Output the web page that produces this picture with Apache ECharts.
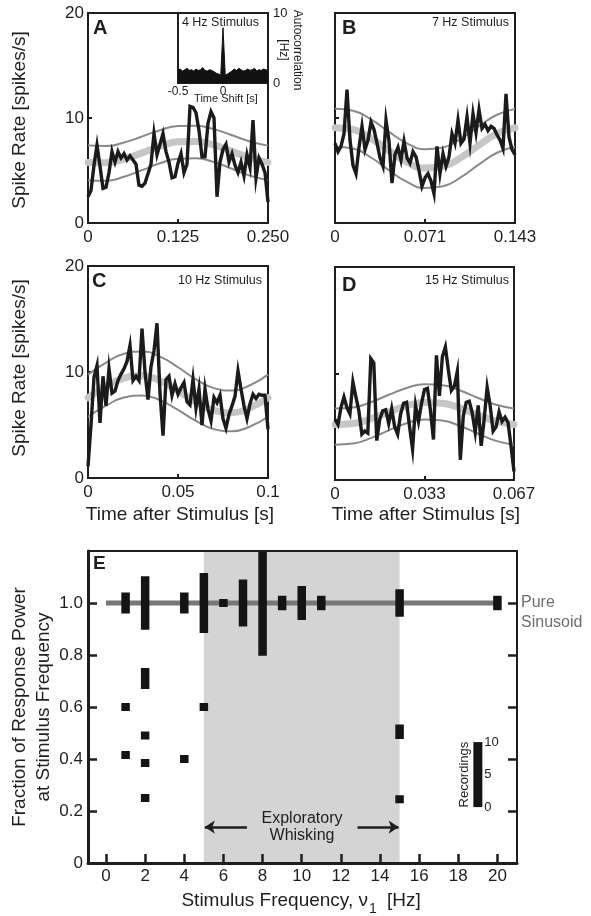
<!DOCTYPE html>
<html><head><meta charset="utf-8">
<script src="https://cdn.jsdelivr.net/npm/echarts@6/dist/echarts.min.js"></script>
<style>html,body{margin:0;padding:0;background:#fff}#c{width:591px;height:916px}</style>
</head><body><div id="c"></div><script>
const FONT = '"Liberation Sans", Arial, Helvetica, sans-serif';
const INK = '#1e1e1e';

// ---------- Panels A-D: spike-rate traces (evenly spaced bins over one stimulus period) ----------
const periodA = 0.25, periodB = 1/7, periodC = 0.1, periodD = 1/15;
const traceA = [2.5,3.1,5.5,7.4,5.4,3.3,3.4,4.8,6.8,5.8,6.8,6.2,6.6,6.0,6.4,6.0,5.6,3.6,3.5,3.8,4.7,5.6,8.5,6.5,7.5,8.5,6.8,5.8,4.3,4.4,5.7,6.6,4.8,5.6,11.1,11.0,10.5,8.8,6.3,6.3,9.5,10.6,10.0,2.5,5.8,7.0,7.5,5.8,6.6,5.5,4.8,5.8,4.5,6.5,5.3,9.8,4.3,6.2,5.6,4.8,2.0];
const traceB = [7.6,6.8,7.3,8.5,12.7,7.9,5.5,4.7,7.2,9.2,7.0,7.9,9.6,8.9,7.6,6.2,5.4,9.8,7.8,3.8,6.5,7.2,6.0,7.8,6.2,5.7,6.8,6.3,5.0,3.5,4.3,4.7,4.0,2.8,7.3,4.7,6.6,5.4,6.3,8.5,7.6,9.8,7.6,8.0,10.1,7.6,10.4,8.6,10.8,9.0,9.4,8.8,9.2,9.0,8.4,7.9,7.1,12.3,8.2,7.0,6.5];
const traceC = [1.1,5.0,9.5,10.6,5.2,9.6,6.8,10.3,8.0,8.2,9.2,9.8,10.3,11.0,12.5,9.2,9.6,9.2,14.1,10.0,7.4,10.5,12.0,14.6,8.0,4.0,9.3,9.6,7.8,8.9,7.9,8.5,9.0,7.2,6.9,9.3,6.6,8.4,5.0,8.4,6.5,5.4,7.6,7.1,7.8,5.6,4.7,6.0,6.8,7.7,10.1,8.4,6.8,5.6,7.0,7.9,7.5,7.9,7.8,7.8,4.6];
const traceD = [5.7,5.2,6.8,7.8,6.8,6.2,9.2,7.8,6.5,4.3,4.6,4.4,11.4,11.0,3.7,5.7,6.5,6.6,5.3,6.7,5.0,4.3,6.2,7.2,7.3,5.0,2.9,7.0,5.5,7.2,8.5,8.6,6.5,3.8,11.7,7.9,11.6,12.5,10.3,8.4,8.8,10.2,1.9,6.0,7.3,7.4,6.3,4.5,7.0,3.2,5.7,8.7,7.0,4.6,5.0,6.4,5.5,5.9,5.4,3.2,0.8];

// sinusoid fits (mean and confidence band), read at 11 even points across the period
const meanA  = [5.77,5.73,6.08,6.68,7.31,7.73,7.77,7.42,6.82,6.19,5.77];
const upperA = [7.37,7.33,7.66,8.24,8.84,9.23,9.27,8.94,8.36,7.76,7.37];
const lowerA = [4.08,4.03,4.40,5.03,5.69,6.12,6.17,5.80,5.17,4.51,4.08];
const meanB  = [9.07,8.90,8.06,6.88,5.79,5.23,5.40,6.24,7.42,8.51,9.07];
const upperB = [10.87,10.70,9.86,8.68,7.59,7.03,7.20,8.04,9.22,10.31,10.87];
const lowerB = [7.27,7.10,6.24,5.02,3.91,3.33,3.50,4.36,5.58,6.69,7.27];
const meanC  = [7.57,8.65,9.43,9.64,9.18,8.23,7.15,6.37,6.16,6.62,7.57];
const upperC = [9.75,10.89,11.72,11.94,11.45,10.45,9.31,8.48,8.26,8.75,9.75];
const lowerC = [5.78,6.82,7.59,7.79,7.34,6.42,5.38,4.61,4.41,4.86,5.78];
const meanD  = [5.22,5.30,5.75,6.39,6.97,7.28,7.20,6.75,6.11,5.53,5.22];
const upperD = [6.72,6.81,7.30,8.00,8.64,8.98,8.89,8.40,7.70,7.06,6.72];
const lowerD = [3.32,3.42,3.93,4.66,5.33,5.68,5.58,5.07,4.34,3.67,3.32];

const xTicksA = [0, 0.125, 0.25],  xLabelsA = ['0','0.125','0.250'];
const xTicksB = [0, 1/14, 1/7],    xLabelsB = ['0','0.071','0.143'];
const xTicksC = [0, 0.05, 0.1],    xLabelsC = ['0','0.05','0.1'];
const xTicksD = [0, 1/30, 1/15],   xLabelsD = ['0','0.033','0.067'];
const rateTicks = [0, 10, 20];
const stimLabels = ['4 Hz Stimulus','7 Hz Stimulus','10 Hz Stimulus','15 Hz Stimulus'];

// inset autocorrelation (lag -0.5..0.5 s, evenly spaced)
const acLag = [-0.5, 0.5];
const acVals = [1.8,2.0,1.7,1.9,2.1,1.8,1.9,1.7,2.0,1.8,1.9,2.2,1.8,1.7,1.9,1.8,1.6,1.4,1.3,1.1,7.9,1.1,1.3,1.5,1.7,2.0,1.8,2.1,1.9,1.7,1.8,2.0,1.8,1.9,2.1,1.7,1.9,1.8,2.0,1.9,1.8];
const acXTicks = [-0.5, 0], acXLabels = ['-0.5','0'];
const acYTicks = [0, 10];

// ---------- Panel E ----------
const pureFrac = 1.0;
const pureFreq = [1,2,4,5,6,7,8,9,10,11,15,20];
const pureRec  = [3,8,3,9,1,7,16,2,5,2,4,2];
const otherFreq = [1,1,2,2,2,2,4,5,15,15];
const otherFrac = [0.60,0.415,0.71,0.49,0.385,0.25,0.40,0.60,0.505,0.245];
const otherRec  = [1,1,3,1,1,1,1,1,2,1];
const whisk = [5, 15];
const arrowY = 0.138, arrowTails = [7.2, 12.85], arrowHeads = [5.05, 14.95];
const eXTicks = [0,2,4,6,8,10,12,14,16,18,20];
const eYTicks = [0,0.2,0.4,0.6,0.8,1.0];
const perRecording = 0.025;        // fraction units per recording (bar-height scale)
const legendAt = [19, 0.215, 10];  // scale bar: x, base, count
const legendTicks = [0, 5, 10];

// ---------- build ----------
const nearest = (arr, v) => { let b = 0; arr.forEach((a,i)=>{ if (Math.abs(a-v) < Math.abs(arr[b]-v)) b = i; }); return b; };
const spread = (vals, period) => vals.map((v,i) => [i*period/(vals.length-1), v]);

const panels = [
  {trace:traceA, mean:meanA, upper:upperA, lower:lowerA, period:periodA, ticks:xTicksA, labels:xLabelsA, yLab:true,  grid:{left:88, top:13, width:180, height:210}},
  {trace:traceB, mean:meanB, upper:upperB, lower:lowerB, period:periodB, ticks:xTicksB, labels:xLabelsB, yLab:false, grid:{left:335, top:13, width:180, height:210}},
  {trace:traceC, mean:meanC, upper:upperC, lower:lowerC, period:periodC, ticks:xTicksC, labels:xLabelsC, yLab:true,  grid:{left:88, top:266, width:180, height:212}},
  {trace:traceD, mean:meanD, upper:upperD, lower:lowerD, period:periodD, ticks:xTicksD, labels:xLabelsD, yLab:false, grid:{left:335, top:267, width:179, height:213}}
];

const grids = [], xAxes = [], yAxes = [], series = [];
panels.forEach((p, i) => {
  grids.push(Object.assign({show:true, borderColor:INK, borderWidth:2, backgroundColor:'transparent'}, p.grid));
  xAxes.push({gridIndex:i, type:'value', min:0, max:p.period, axisLine:{show:false, onZero:false}, splitLine:{show:false},
    axisTick:{show:true, inside:true, length:4, customValues:[p.ticks[1]], lineStyle:{color:INK, width:2}},
    axisLabel:{customValues:p.ticks, formatter:(v)=>p.labels[nearest(p.ticks, v)], fontSize:17, color:INK, margin:6, fontFamily:FONT}});
  yAxes.push({gridIndex:i, type:'value', min:0, max:20, axisLine:{show:false, onZero:false}, splitLine:{show:false},
    axisTick:{show:true, inside:true, length:4, customValues:[10], lineStyle:{color:INK, width:2}},
    axisLabel:{show:p.yLab, customValues:rateTicks, fontSize:17, color:INK, margin:4, fontFamily:FONT}});
  series.push({type:'line', xAxisIndex:i, yAxisIndex:i, data:spread(p.mean, p.period), smooth:true, symbol:'none', silent:true, z:2,
    lineStyle:{color:'#c6c6c6', width:7, cap:'round'}});
  series.push({type:'line', xAxisIndex:i, yAxisIndex:i, data:spread(p.upper, p.period), smooth:true, symbol:'none', silent:true, z:3,
    lineStyle:{color:'#8a8a8a', width:2}});
  series.push({type:'line', xAxisIndex:i, yAxisIndex:i, data:spread(p.lower, p.period), smooth:true, symbol:'none', silent:true, z:3,
    lineStyle:{color:'#8a8a8a', width:2}});
  series.push({type:'line', xAxisIndex:i, yAxisIndex:i, data:spread(p.trace, p.period), symbol:'none', silent:true, z:4,
    lineStyle:{color:'#1b1b1b', width:3.4, join:'miter'}});
});

// inset (grid 4)
grids.push({left:178, top:13, width:90, height:70, show:true, borderColor:INK, borderWidth:2, backgroundColor:'#fff'});
xAxes.push({gridIndex:4, type:'value', min:acLag[0], max:acLag[1], axisLine:{show:false, onZero:false}, axisTick:{show:false}, splitLine:{show:false},
  axisLabel:{customValues:acXTicks, formatter:(v)=>acXLabels[nearest(acXTicks, v)], fontSize:12, color:INK, margin:3, fontFamily:FONT}});
yAxes.push({gridIndex:4, type:'value', position:'right', min:0, max:10, axisLine:{show:false, onZero:false}, axisTick:{show:false}, splitLine:{show:false},
  axisLabel:{customValues:acYTicks, fontSize:13, color:INK, margin:5, fontFamily:FONT}});
series.push({type:'line', xAxisIndex:4, yAxisIndex:4, symbol:'none', silent:true, z:5,
  data:acVals.map((v,i)=>[acLag[0] + i*(acLag[1]-acLag[0])/(acVals.length-1), v]),
  lineStyle:{color:'#111', width:1}, areaStyle:{color:'#111', opacity:1}});

// panel E (grid 5)
grids.push({left:88, top:551, width:429, height:312, show:false});
xAxes.push({gridIndex:5, type:'value', position:'bottom', min:-0.92, max:21, z:6, splitLine:{show:false},
  axisLine:{show:true, onZero:false, lineStyle:{color:INK, width:3}},
  axisTick:{show:true, inside:true, length:9, customValues:eXTicks, lineStyle:{color:INK, width:2.5}},
  axisLabel:{customValues:eXTicks, fontSize:17, color:INK, margin:5, fontFamily:FONT}});
xAxes.push({gridIndex:5, type:'value', position:'top', min:-0.92, max:21, z:6, splitLine:{show:false},
  axisLine:{show:true, onZero:false, lineStyle:{color:INK, width:2}}, axisTick:{show:false}, axisLabel:{show:false}});
yAxes.push({gridIndex:5, type:'value', position:'left', min:0, max:1.2, z:6, splitLine:{show:false},
  axisLine:{show:true, onZero:false, lineStyle:{color:INK, width:3}},
  axisTick:{show:true, inside:true, length:9, customValues:eYTicks.slice(1), lineStyle:{color:INK, width:2.5}},
  axisLabel:{customValues:eYTicks, formatter:(v)=> v===0 ? '0' : v.toFixed(1), fontSize:17, color:INK, margin:5, fontFamily:FONT}});
yAxes.push({gridIndex:5, type:'value', position:'right', min:0, max:1.2, z:6, splitLine:{show:false},
  axisLine:{show:true, onZero:false, lineStyle:{color:INK, width:2}},
  axisTick:{show:true, inside:true, length:9, customValues:eYTicks.slice(1), lineStyle:{color:INK, width:2.5}},
  axisLabel:{show:false}});

series.push({type:'line', xAxisIndex:5, yAxisIndex:6, symbol:'none', silent:true, z:2,
  data:[[0, pureFrac],[pureFreq[pureFreq.length-1], pureFrac]],
  lineStyle:{color:'#777', width:5},
  markArea:{silent:true, itemStyle:{color:'#d4d4d4'}, data:[[{xAxis:whisk[0]},{xAxis:whisk[1]}]]}});

function renderRecBar(params, api) {
  const x = api.value(0), y = api.value(1), n = api.value(2);
  const half = n * perRecording / 2;
  const top = api.coord([x, y + half]);
  const bot = api.coord([x, y - half]);
  const w = 7;
  return {type:'rect', shape:{x:top[0]-w/2, y:top[1], width:w, height:bot[1]-top[1]},
    style:{fill:'#141414', stroke:'#141414', lineWidth:1.5}};
}
series.push({type:'custom', xAxisIndex:5, yAxisIndex:5, z:4, silent:true, renderItem:renderRecBar,
  data:pureFreq.map((f,i)=>[f, pureFrac, pureRec[i]])});
series.push({type:'custom', xAxisIndex:5, yAxisIndex:5, z:4, silent:true, renderItem:renderRecBar,
  data:otherFreq.map((f,i)=>[f, otherFrac[i], otherRec[i]])});

series.push({type:'custom', xAxisIndex:5, yAxisIndex:5, z:4, silent:true, data:[legendAt],
  renderItem:(params, api) => {
    const x = api.value(0), y0 = api.value(1), n = api.value(2);
    const b = api.coord([x, y0]), t = api.coord([x, y0 + n*perRecording]);
    const w = 9;
    const ch = [{type:'rect', shape:{x:b[0]-w/2, y:t[1], width:w, height:b[1]-t[1]}, style:{fill:'#141414'}}];
    legendTicks.forEach(k => {
      const p = api.coord([x, y0 + k*perRecording]);
      ch.push({type:'text', x:p[0]+w/2+2, y:p[1], style:{text:String(k), fill:INK, fontSize:13, fontFamily:FONT, align:'left', verticalAlign:'middle'}});
    });
    ch.push({type:'text', x:b[0]-w/2-9, y:(t[1]+b[1])/2, rotation:Math.PI/2,
      style:{text:'Recordings', fill:INK, fontSize:13, fontFamily:FONT, align:'center', verticalAlign:'middle'}});
    return {type:'group', children:ch};
  }});

series.push({type:'lines', coordinateSystem:'cartesian2d', xAxisIndex:5, yAxisIndex:5, z:4, silent:true,
  symbol:['none','arrow'], symbolSize:[0, 10],
  lineStyle:{color:INK, width:2.5, opacity:1},
  data:arrowTails.map((t,i)=>({coords:[[t, arrowY],[arrowHeads[i], arrowY]]}))});

// ---------- free text ----------
const T = (x, y, text, st, extra) => Object.assign({type:'text', x, y, silent:true, z:10,
  style:Object.assign({text, fill:INK, fontFamily:FONT, fontSize:17, align:'left', verticalAlign:'middle'}, st)}, extra || {});
const graphic = [
  T(20, 120, 'Spike Rate [spikes/s]', {fontSize:19, align:'center'}, {rotation:Math.PI/2}),
  T(20, 368, 'Spike Rate [spikes/s]', {fontSize:19, align:'center'}, {rotation:Math.PI/2}),
  T(180, 515, 'Time after Stimulus [s]', {fontSize:19, align:'center'}),
  T(426, 515, 'Time after Stimulus [s]', {fontSize:19, align:'center'}),
  T(93, 28, 'A', {fontSize:20, fontWeight:'bold'}),
  T(342, 28, 'B', {fontSize:20, fontWeight:'bold'}),
  T(92, 281, 'C', {fontSize:20, fontWeight:'bold'}),
  T(342, 285, 'D', {fontSize:20, fontWeight:'bold'}),
  T(93, 564, 'E', {fontSize:19, fontWeight:'bold'}),
  T(259, 23, stimLabels[0], {fontSize:12.5, align:'right'}),
  T(509, 23, stimLabels[1], {fontSize:12.5, align:'right'}),
  T(262, 281, stimLabels[2], {fontSize:12.5, align:'right'}),
  T(509, 281, stimLabels[3], {fontSize:12.5, align:'right'}),
  T(226, 99, 'Time Shift [s]', {fontSize:11, align:'center'}),
  T(290, 50, 'Autocorrelation\n[Hz]', {fontSize:12, align:'center', lineHeight:14}, {rotation:-Math.PI/2}),
  T(32, 707, 'Fraction of Response Power\nat Stimulus Frequency', {fontSize:19, align:'center', lineHeight:24}, {rotation:Math.PI/2}),
  T(368, 901, 'Stimulus Frequency, ν', {fontSize:19, align:'right'}),
  T(369, 909, '1', {fontSize:14}),
  T(387, 901, '[Hz]', {fontSize:19}),
  T(521, 603, 'Pure', {fontSize:16, fill:'#6e6e6e'}),
  T(521, 623, 'Sinusoid', {fontSize:16, fill:'#6e6e6e'}),
  T(302, 827, 'Exploratory\nWhisking', {fontSize:16, align:'center', lineHeight:17})
];

const chart = echarts.init(document.getElementById('c'), null, {renderer:'canvas'});
chart.setOption({
  animation:false,
  backgroundColor:'#fff',
  textStyle:{fontFamily:FONT},
  grid:grids, xAxis:xAxes, yAxis:yAxes, series:series, graphic:graphic
});
</script></body></html>
